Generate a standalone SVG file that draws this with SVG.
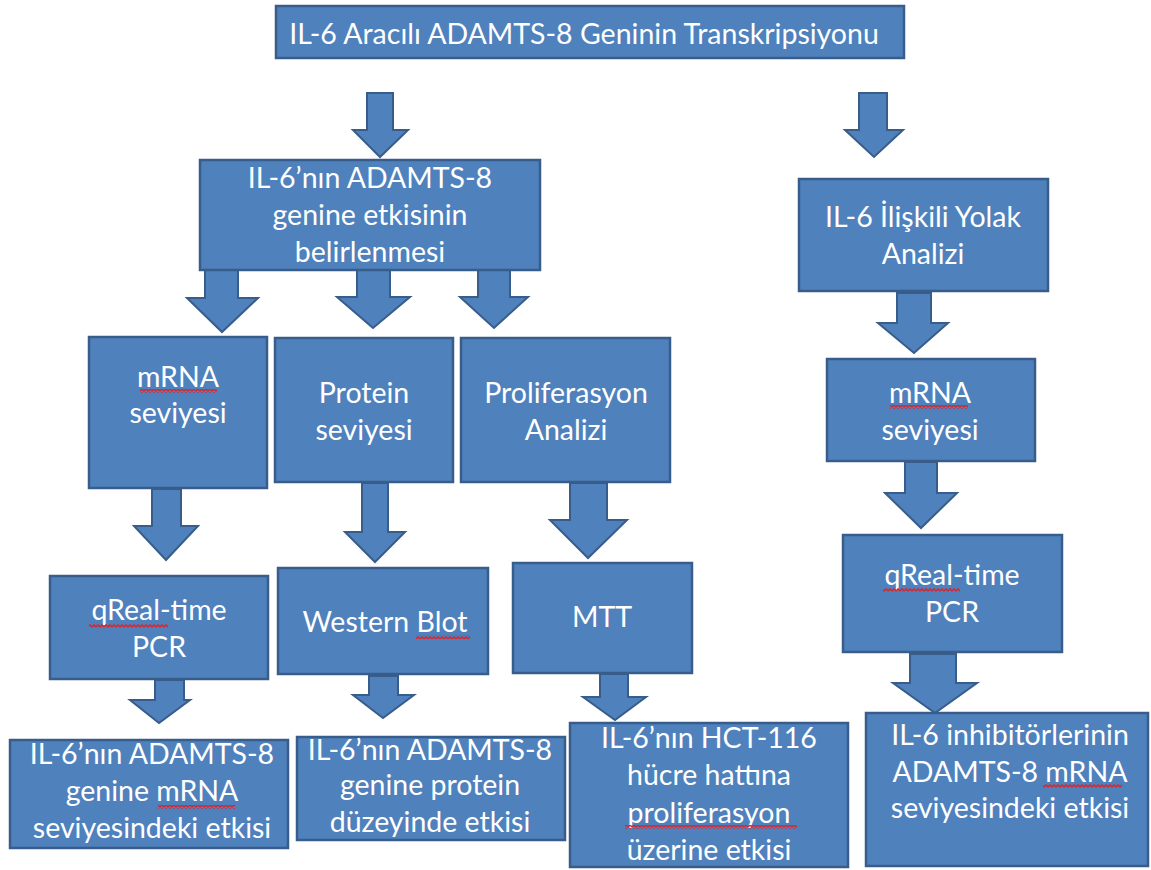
<svg xmlns="http://www.w3.org/2000/svg" width="1151" height="870" viewBox="0 0 1151 870">
<defs>
<style>
.box{fill:#4F81BD;stroke:#385D8A;stroke-width:2.5}
.arr{fill:#4F81BD;stroke:#385D8A;stroke-width:2;stroke-linejoin:miter}
.t{font-family:Lato,"Noto Sans","DejaVu Sans",sans-serif;font-size:28.5px;fill:#FFFFFF;text-anchor:middle}
.sq{fill:url(#squig)}
</style>
<pattern id="squig" patternUnits="userSpaceOnUse" width="4" height="4">
<path d="M0,3.2 L2,0.8 L4,3.2" fill="none" stroke="#D9262E" stroke-width="1.4"/>
</pattern>
</defs>
<rect width="1151" height="870" fill="#FFFFFF"/>
<g id="connectors">
<path class="arr" d="M367,93 L393,93 L393,130 L408,130 L380,157 L353,130 L367,130 Z"/>
<path class="arr" d="M859,93 L887,93 L887,130 L903,130 L874,157 L845,130 L859,130 Z"/>
<path class="arr" d="M205,269 L238,269 L238,298 L258,298 L222,332 L187,298 L205,298 Z"/>
<path class="arr" d="M357,269 L390,269 L390,297 L410,297 L373,328 L337,297 L357,297 Z"/>
<path class="arr" d="M478,269 L510,269 L510,297 L528,297 L494,328 L460,297 L478,297 Z"/>
<path class="arr" d="M152,489 L181,489 L181,526 L198,526 L166,560 L134,526 L152,526 Z"/>
<path class="arr" d="M362,483 L388,483 L388,532 L405,532 L375,562 L345,532 L362,532 Z"/>
<path class="arr" d="M570,483 L607,483 L607,520 L627,520 L588,558 L550,520 L570,520 Z"/>
<path class="arr" d="M155,680 L184,680 L184,700 L190,700 L159,723 L130,700 L155,700 Z"/>
<path class="arr" d="M369,676 L398,676 L398,695 L414,695 L383,718 L353,695 L369,695 Z"/>
<path class="arr" d="M600,674 L628,674 L628,697 L646,697 L615,720 L583,697 L600,697 Z"/>
<path class="arr" d="M897,293 L931,293 L931,323 L948,323 L914,353 L878,323 L897,323 Z"/>
<path class="arr" d="M905,462 L937,462 L937,493 L957,493 L921,528 L885,493 L905,493 Z"/>
<path class="arr" d="M910,654 L956,654 L956,683 L977,683 L935,713 L893,683 L910,683 Z"/>
</g>
<g id="n1"><rect class="box" x="276" y="6" width="628" height="52"/>
<text class="t" x="584" y="44">IL-6 Aracılı ADAMTS-8 Geninin Transkripsiyonu</text></g>
<g id="n2"><rect class="box" x="200" y="160" width="340" height="110"/>
<text class="t" x="370" y="188">IL-6’nın ADAMTS-8</text>
<text class="t" x="370" y="225">genine etkisinin</text>
<text class="t" x="370" y="262">belirlenmesi</text></g>
<g id="n3"><rect class="box" x="799" y="179" width="249" height="112"/>
<text class="t" x="923" y="227">IL-6 İlişkili Yolak</text>
<text class="t" x="923" y="264">Analizi</text></g>
<g id="n4"><rect class="box" x="89" y="337" width="178" height="151"/>
<text class="t" x="178" y="387">mRNA</text>
<text class="t" x="178" y="423">seviyesi</text>
<rect class="sq" x="140" y="389" width="77" height="4"/></g>
<g id="n5"><rect class="box" x="275" y="338" width="178" height="144"/>
<text class="t" x="364" y="403">Protein</text>
<text class="t" x="364" y="440">seviyesi</text></g>
<g id="n6"><rect class="box" x="461" y="338" width="209" height="144"/>
<text class="t" x="566" y="403">Proliferasyon</text>
<text class="t" x="566" y="440">Analizi</text></g>
<g id="n7"><rect class="box" x="827" y="359" width="208" height="102"/>
<text class="t" x="930" y="403">mRNA</text>
<text class="t" x="930" y="440">seviyesi</text>
<rect class="sq" x="890" y="405" width="78" height="4"/></g>
<g id="n8"><rect class="box" x="50" y="576" width="218" height="103"/>
<text class="t" x="159" y="620">qReal-time</text>
<text class="t" x="159" y="657">PCR</text>
<rect class="sq" x="89" y="624" width="79" height="4"/></g>
<g id="n9"><rect class="box" x="278" y="568" width="210" height="106"/>
<text class="t" x="385" y="632">Western Blot</text>
<rect class="sq" x="416" y="635" width="54" height="4"/></g>
<g id="n10"><rect class="box" x="513" y="563" width="179" height="110"/>
<text class="t" x="602" y="627">MTT</text></g>
<g id="n11"><rect class="box" x="843" y="535" width="219" height="117"/>
<text class="t" x="952" y="585">qReal-time</text>
<text class="t" x="952" y="622">PCR</text>
<rect class="sq" x="883" y="588" width="77" height="4"/></g>
<g id="n12"><rect class="box" x="10" y="740" width="278" height="108"/>
<text class="t" x="152" y="764">IL-6’nın ADAMTS-8</text>
<text class="t" x="152" y="801">genine mRNA</text>
<text class="t" x="152" y="838">seviyesindeki etkisi</text>
<rect class="sq" x="158" y="805" width="77" height="4"/></g>
<g id="n13"><rect class="box" x="297" y="737" width="268" height="103"/>
<text class="t" x="430" y="760">IL-6’nın ADAMTS-8</text>
<text class="t" x="430" y="795">genine protein</text>
<text class="t" x="430" y="832">düzeyinde etkisi</text></g>
<g id="n14"><rect class="box" x="570" y="723" width="278" height="144"/>
<text class="t" x="709" y="748">IL-6’nın HCT-116</text>
<text class="t" x="709" y="785">hücre hattına</text>
<text class="t" x="709" y="823">proliferasyon</text>
<text class="t" x="709" y="860">üzerine etkisi</text>
<rect class="sq" x="625" y="825" width="172" height="4"/></g>
<g id="n15"><rect class="box" x="866" y="713" width="282" height="153"/>
<text class="t" x="1010" y="745">IL-6 inhibitörlerinin</text>
<text class="t" x="1010" y="782">ADAMTS-8 mRNA</text>
<text class="t" x="1010" y="818">seviyesindeki etkisi</text>
<rect class="sq" x="1043" y="784" width="79" height="4"/></g>
</svg>
